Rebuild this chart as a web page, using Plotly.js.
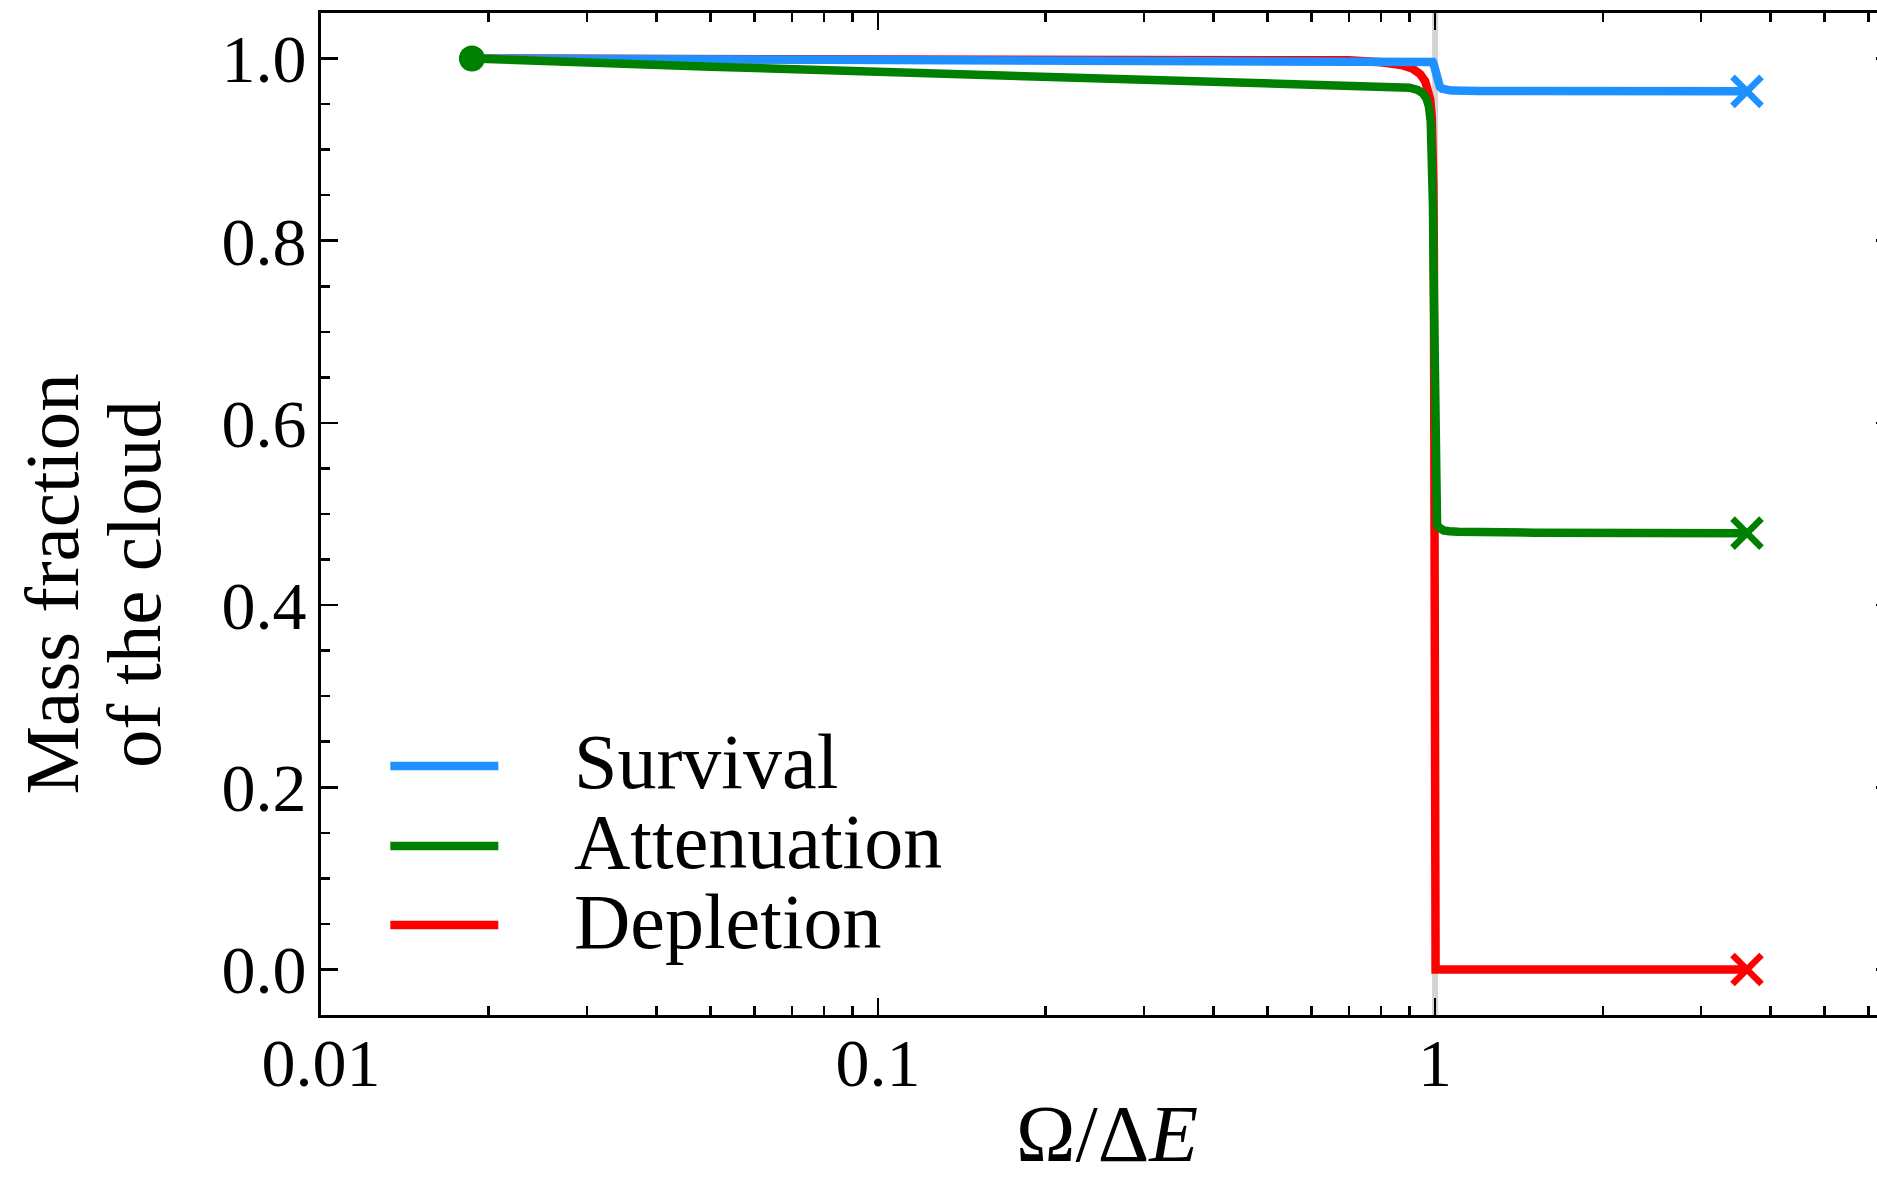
<!DOCTYPE html>
<html>
<head>
<meta charset="utf-8">
<script src="https://cdn.plot.ly/plotly-3.0.1.min.js"></script>
<style>
html, body { margin: 0; padding: 0; overflow: hidden; background: #fff; }
#chart { width: 1900px; height: 1186px; }
</style>
</head>
<body>
<div id="chart"></div>
<script>
// ---- data ----
const seriesNames = ["Survival", "Attenuation", "Depletion"];
const seriesColors = ["#1e90ff", "#008000", "#ff0000"];

const xSurvival = [0.01866, 0.03, 0.05, 0.1, 0.2, 0.4, 0.7, 0.9, 0.97, 0.985, 0.99, 0.995, 1.0, 1.005, 1.01, 1.02, 1.03, 1.045, 1.07, 1.2, 2, 3.63];
const ySurvival = [1.0, 0.9995, 0.999, 0.9985, 0.998, 0.9977, 0.9974, 0.9972, 0.997, 0.9967, 0.9962, 0.993, 0.986, 0.979, 0.974, 0.969, 0.9668, 0.9655, 0.9648, 0.9643, 0.964, 0.964];

const xAttenuation = [0.01866, 0.03, 0.05, 0.1, 0.2, 0.4, 0.7, 0.85, 0.9, 0.93, 0.95, 0.965, 0.975, 0.982, 0.987, 0.991, 0.994, 0.997, 0.999, 1.001, 1.003, 1.005, 1.008, 1.012, 1.02, 1.035, 1.06, 1.1, 1.5, 3.63];
const yAttenuation = [1.0, 0.995, 0.991, 0.9855, 0.9805, 0.9755, 0.972, 0.970, 0.968, 0.9655, 0.962, 0.956, 0.947, 0.931, 0.9, 0.84, 0.76, 0.66, 0.58, 0.535, 0.51, 0.497, 0.49, 0.486, 0.4835, 0.482, 0.481, 0.4805, 0.4795, 0.479];

const xDepletion = [0.01866, 0.05, 0.1, 0.3, 0.5, 0.7, 0.8, 0.87, 0.91, 0.94, 0.96, 0.972, 0.98, 0.986, 0.99, 0.993, 0.995, 0.997, 0.999, 1.0, 1.001, 1.002, 1.2, 3.63];
const yDepletion = [1.0, 0.9998, 0.9996, 0.9993, 0.999, 0.998, 0.996, 0.993, 0.989, 0.983, 0.975, 0.966, 0.955, 0.937, 0.91, 0.86, 0.78, 0.6, 0.35, 0.15, 0.03, 0.0, 0.0, 0.0];

const xTickVals = [0.01, 0.1, 1];
const xTickText = ["0.01", "0.1", "1"];
const xMinorVals = [0.02, 0.03, 0.04, 0.05, 0.06, 0.07, 0.08, 0.09, 0.2, 0.3, 0.4, 0.5, 0.6, 0.7, 0.8, 0.9, 2, 3, 4, 5, 6];
const yTickVals = [0, 0.2, 0.4, 0.6, 0.8, 1.0];
const yTickText = ["0.0", "0.2", "0.4", "0.6", "0.8", "1.0"];
const yMinorVals = [-0.05, 0.05, 0.1, 0.15, 0.25, 0.3, 0.35, 0.45, 0.5, 0.55, 0.65, 0.7, 0.75, 0.85, 0.9, 0.95, 1.05];
const resonanceX = 1;

const xTitle = "Ω/Δ<i>E</i>";
const yTitleLines = ["Mass fraction", "of the cloud"];

// ---- build traces ----
const FONT = "Liberation Serif, Times New Roman, serif";
const seriesX = [xSurvival, xAttenuation, xDepletion];
const seriesY = [ySurvival, yAttenuation, yDepletion];

const drawOrder = [2, 0, 1]; // red, blue, green (green on top)
const traces = [];
drawOrder.forEach(i => {
  traces.push({
    type: "scatter", mode: "lines", x: seriesX[i], y: seriesY[i],
    name: seriesNames[i], showlegend: false,
    line: { color: seriesColors[i], width: 8.5, shape: "linear" },
    hoverinfo: "skip"
  });
});
drawOrder.forEach(i => {
  const xs = seriesX[i], ys = seriesY[i];
  traces.push({
    type: "scatter", mode: "markers",
    x: [xs[xs.length - 1]], y: [ys[ys.length - 1]],
    showlegend: false, hoverinfo: "skip",
    marker: { symbol: "x-thin", size: 29, color: seriesColors[i], line: { color: seriesColors[i], width: 6.5 } }
  });
});
traces.push({
  type: "scatter", mode: "markers",
  x: [xAttenuation[0]], y: [yAttenuation[0]],
  showlegend: false, hoverinfo: "skip",
  marker: { symbol: "circle", size: 26, color: seriesColors[1] }
});

// ---- manual legend (long line samples as in the reference) ----
const shapes = [{
  type: "line", xref: "x", yref: "paper", x0: resonanceX, x1: resonanceX, y0: 0, y1: 1,
  line: { color: "#d3d3d3", width: 6 }, layer: "below"
}];
const annotations = [];
const legY = [0.2485, 0.1687, 0.0898];
seriesNames.forEach((nm, i) => {
  shapes.push({
    type: "line", xref: "paper", yref: "paper", x0: 0.0441, x1: 0.1128, y0: legY[i], y1: legY[i],
    line: { color: seriesColors[i], width: 8.5 }
  });
  annotations.push({
    xref: "paper", yref: "paper", x: 0.1595, y: legY[i] + 0.004, xanchor: "left", yanchor: "middle",
    text: nm, showarrow: false, font: { family: FONT, size: 78, color: "#000" }
  });
});
annotations.push({
  xref: "paper", yref: "paper", x: 0.5, y: -0.119, xanchor: "center", yanchor: "middle",
  text: xTitle, showarrow: false, font: { family: FONT, size: 80, color: "#000" }
});
annotations.push({
  xref: "paper", yref: "paper", x: -0.1709, y: 0.43, xanchor: "center", yanchor: "middle",
  text: yTitleLines[0], textangle: -90, showarrow: false, font: { family: FONT, size: 77, color: "#000" }
});
annotations.push({
  xref: "paper", yref: "paper", x: -0.119, y: 0.43, xanchor: "center", yanchor: "middle",
  text: yTitleLines[1], textangle: -90, showarrow: false, font: { family: FONT, size: 77, color: "#000" }
});

const layout = {
  width: 1900, height: 1186,
  margin: { l: 321, r: 7, t: 13, b: 171, pad: 0 },
  paper_bgcolor: "#fff", plot_bgcolor: "#fff",
  showlegend: false,
  font: { family: FONT, size: 68, color: "#000" },
  xaxis: {
    type: "log", range: [-2, 0.822],
    tickvals: xTickVals, ticktext: xTickText,
    ticks: "inside", ticklen: 17, tickwidth: 2.5, tickcolor: "#000",
    showline: true, linewidth: 3, linecolor: "#000", mirror: "ticks",
    showgrid: false, zeroline: false,
    ticklabelstandoff: -14,
    tickfont: { family: FONT, size: 68, color: "#000" },
    minor: { tickvals: xMinorVals, ticks: "inside", ticklen: 9, tickwidth: 2.5, tickcolor: "#000", showgrid: false },
    title: { text: "" }
  },
  yaxis: {
    range: [-0.05, 1.05],
    tickvals: yTickVals, ticktext: yTickText,
    ticks: "inside", ticklen: 17, tickwidth: 2.5, tickcolor: "#000",
    showline: true, linewidth: 3, linecolor: "#000", mirror: "ticks",
    showgrid: false, zeroline: false,
    ticklabelstandoff: -2,
    tickfont: { family: FONT, size: 68, color: "#000" },
    minor: { tickvals: yMinorVals, ticks: "inside", ticklen: 9, tickwidth: 2.5, tickcolor: "#000", showgrid: false },
    title: { text: "" }
  },
  shapes: shapes,
  annotations: annotations
};

Plotly.newPlot("chart", traces, layout, { displayModeBar: false, staticPlot: true });
</script>
</body>
</html>
